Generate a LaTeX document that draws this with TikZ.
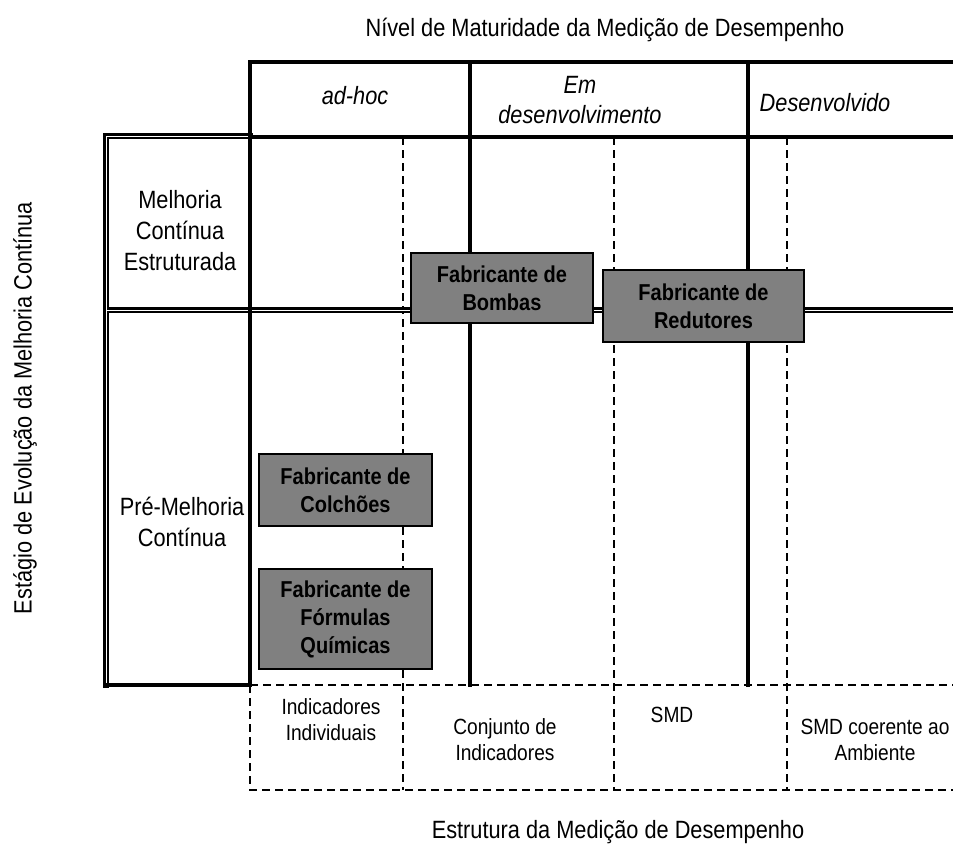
\documentclass[tikz,border=0pt]{standalone}
\usepackage{fontspec}
\setmainfont[FakeStretch=0.87]{Liberation Sans}
\definecolor{boxgray}{HTML}{808080}
\begin{document}
\begin{tikzpicture}[x=1pt,y=-1pt,
  thickline/.style={line width=4.5pt, line cap=rect},
  dblblack/.style={line width=6.5pt, line cap=rect, line join=miter},
  dblwhite/.style={line width=0.8pt, white},
  dashline/.style={line width=1.6pt, dash pattern=on 8pt off 5pt},
  lbl/.style={inner sep=0pt, align=center, font=\fontsize{25}{31}\selectfont},
  hdr/.style={inner sep=0pt, align=center, font=\fontsize{25}{30}\selectfont\itshape},
  btm/.style={inner sep=0pt, align=center, font=\fontsize{22}{26}\selectfont},
  ttl/.style={inner sep=0pt, font=\fontsize{25}{30}\selectfont},
  gbox/.style={draw=black, line width=1.5pt, fill=boxgray, inner sep=0pt, align=center,
    font=\fontsize{23}{28}\selectfont\bfseries}
]
\useasboundingbox (0,0) rectangle (953,846);
% dashed structure
\draw[dashline] (250,685) -- (953,685);
\draw[dashline] (250,685) -- (250,790) -- (953,790);
\foreach \x in {403,614,787} \draw[dashline] (\x,137) -- (\x,790);
% double-line frame of the row headers
\draw[dblblack] (250,136) -- (106,136) -- (106,685);
\draw[dblblack] (106,310) -- (953,310);
\draw[dblwhite] (248,136) -- (106,136) -- (106,683);
\draw[dblwhite] (106,310) -- (953,310);
% thick grid
\draw[thickline] (250,62) -- (953,62);
\draw[thickline] (250,137) -- (953,137);
\draw[thickline] (250,62) -- (250,685);
\draw[thickline] (470,62) -- (470,685);
\draw[thickline] (748,62) -- (748,685);
\draw[thickline] (106,685) -- (250,685);
% titles
\node[ttl] (toptitle) at (605,30) {Nível de Maturidade da Medição de Desempenho};
\node[ttl] (bottitle) at (618,832) {Estrutura da Medição de Desempenho};
\node[ttl, rotate=90] (lefttitle) at (25,408) {Estágio de Evolução da Melhoria Contínua};
% column headers
\node[hdr] (adhoc) at (355,96) {ad-hoc};
\node[hdr] (emdes) at (580,100) {Em\\desenvolvimento};
\node[hdr] (desenv) at (825,103) {Desenvolvido};
% row headers
\node[lbl] (mce) at (180,231) {Melhoria\\Contínua\\Estruturada};
\node[lbl] (pmc) at (182,522) {Pré-Melhoria\\Contínua};
% bottom labels
\node[btm] (indind) at (331,720) {Indicadores\\Individuais};
\node[btm] (conj) at (505,740) {Conjunto de\\Indicadores};
\node[btm] (smd) at (672,715) {SMD};
\node[btm] (smdc) at (875,740) {SMD coerente ao\\Ambiente};
% companies
\node[gbox, minimum width=182pt, minimum height=70pt] (bombas) at (502,288) {Fabricante de\\Bombas};
\node[gbox, minimum width=201pt, minimum height=72pt] (redutores) at (703.5,306) {Fabricante de\\Redutores};
\node[gbox, minimum width=173pt, minimum height=72pt] (colchoes) at (345.5,490) {Fabricante de\\Colchões};
\node[gbox, minimum width=173pt, minimum height=100pt] (formulas) at (345.5,619) {Fabricante de\\Fórmulas\\Químicas};
\end{tikzpicture}
\end{document}
